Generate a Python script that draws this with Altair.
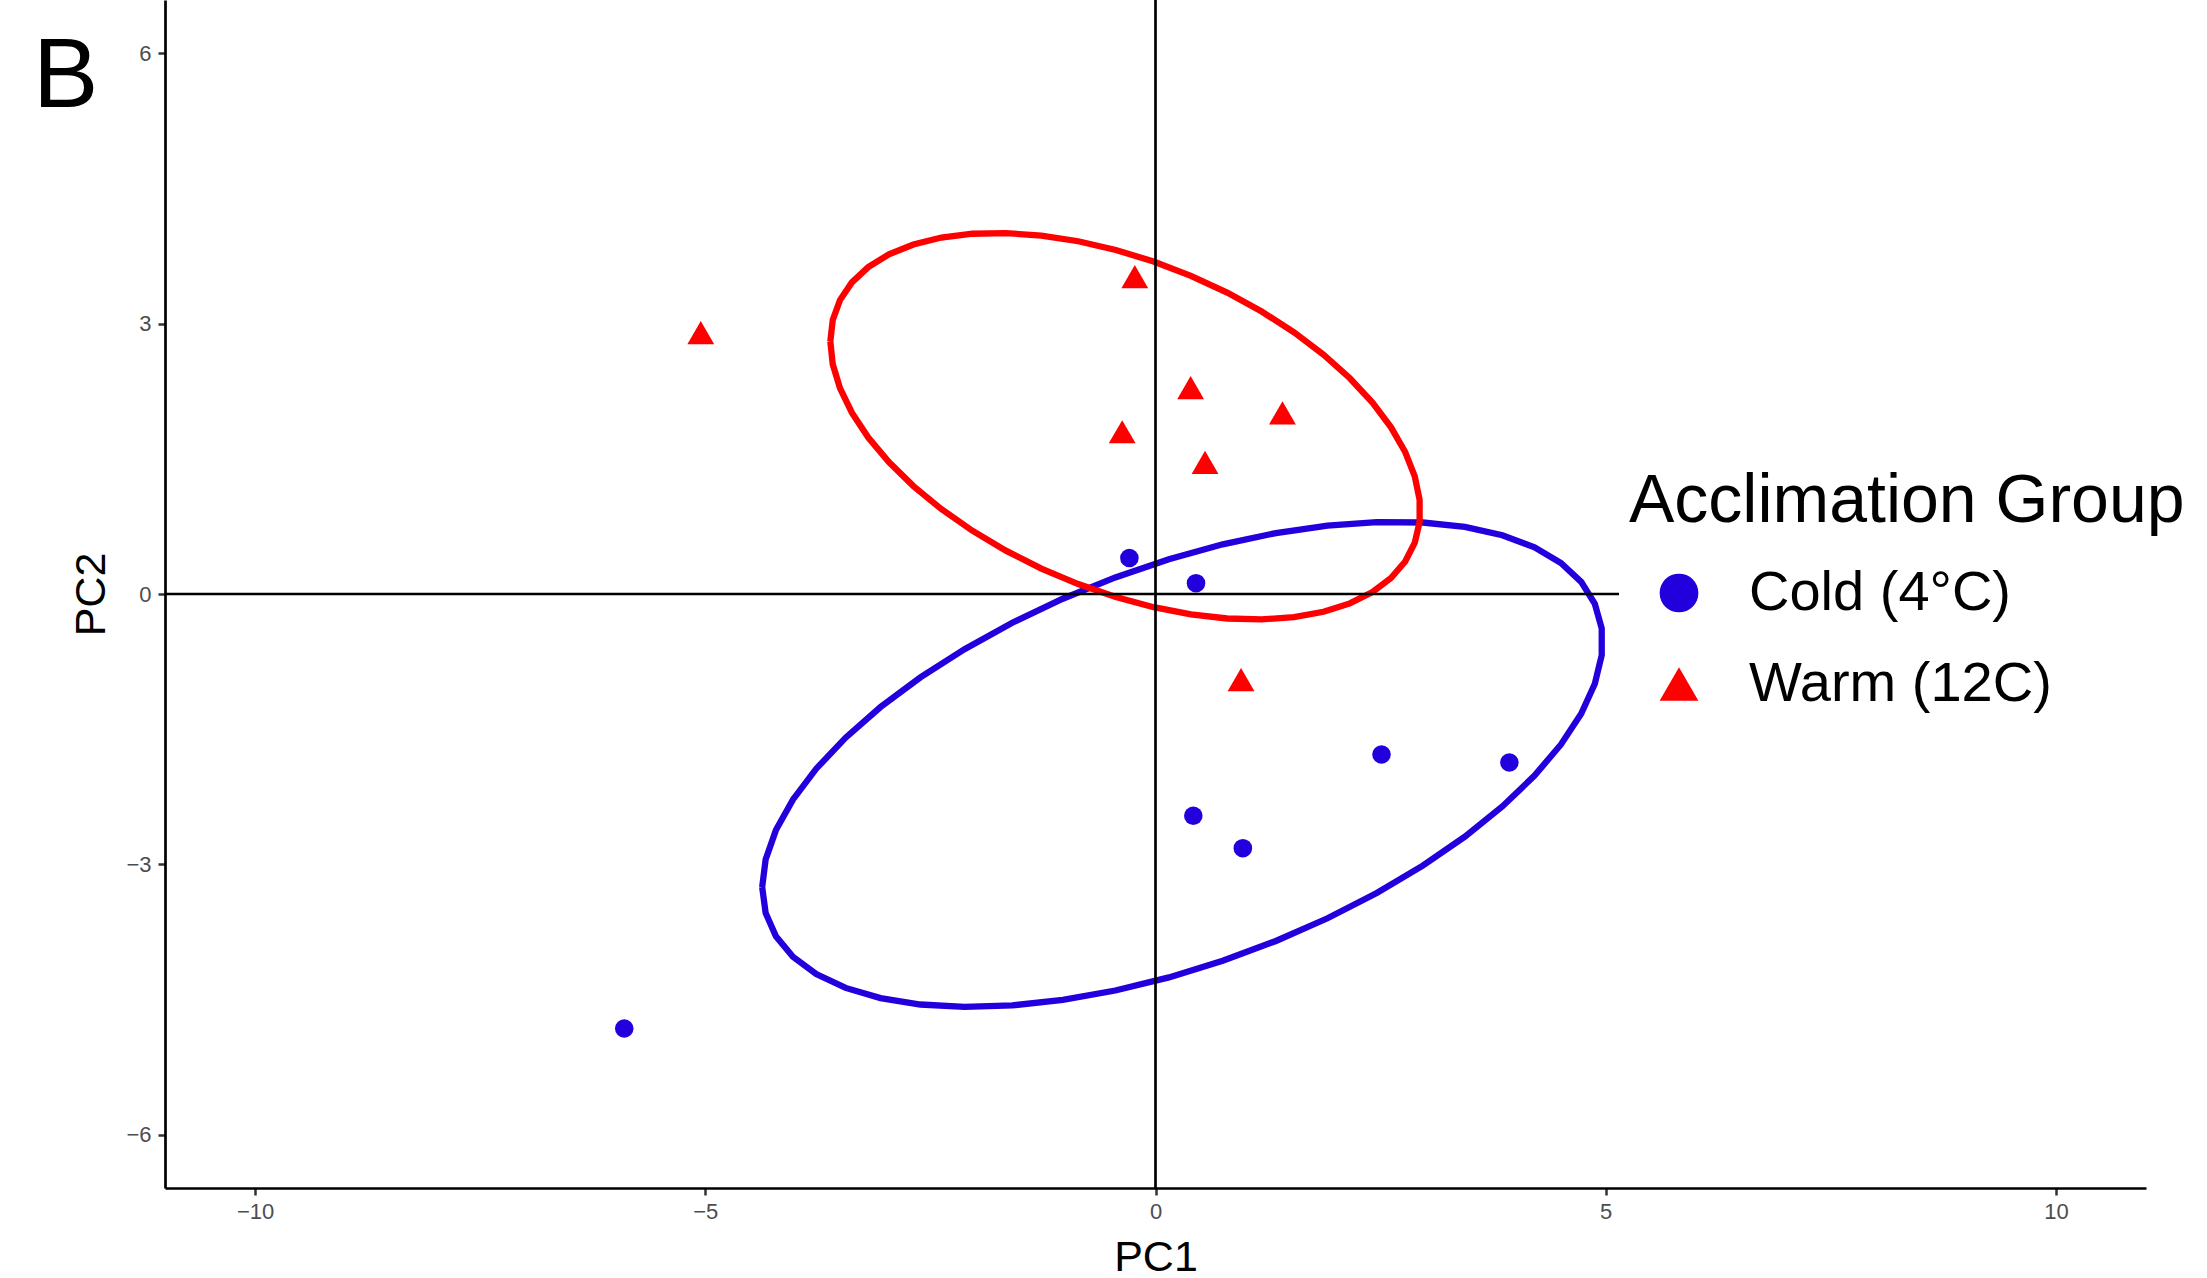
import numpy as np
import pandas as pd
import altair as alt

# ---- data ----
groups = ["Cold (4°C)", "Warm (12C)"]
cold_pc1 = [-0.29, 0.45, 2.51, 3.93, 0.42, 0.97, -5.90]
cold_pc2 = [0.40, 0.12, -1.78, -1.87, -2.46, -2.82, -4.82]
warm_pc1 = [-0.23, -5.05, 0.39, 1.41, -0.37, 0.55, 0.95]
warm_pc2 = [3.52, 2.90, 2.29, 2.01, 1.80, 1.46, -0.95]
colors = ["#2200DD", "#FF0000"]
shapes = ["circle", "triangle-up"]
point_sizes = [345, 720]
x_ticks = [-10, -5, 0, 5, 10]
y_ticks = [-6, -3, 0, 3, 6]
ellipse_prob = 0.68


def ellipse(xs, ys, prob=ellipse_prob):
    # normal-theory ellipse (as in ggbiplot): mean + sqrt(qchisq(prob, 2)) * circle %*% chol(cov)
    pts = np.column_stack([xs, ys]).astype(float)
    mu = pts.mean(0)
    sigma = np.cov(pts.T, ddof=1)
    ed = np.sqrt(-2.0 * np.log(1.0 - prob))
    R = np.linalg.cholesky(sigma).T
    theta = np.concatenate([np.linspace(-np.pi, np.pi, 50), np.linspace(np.pi, -np.pi, 50)])
    circ = np.column_stack([np.cos(theta), np.sin(theta)])
    return mu + ed * circ @ R


pts = pd.DataFrame({
    "PC1": cold_pc1 + warm_pc1,
    "PC2": cold_pc2 + warm_pc2,
    "group": [groups[0]] * len(cold_pc1) + [groups[1]] * len(warm_pc1),
})

ell_rows = []
for g, xs, ys in [(groups[0], cold_pc1, cold_pc2), (groups[1], warm_pc1, warm_pc2)]:
    e = ellipse(xs, ys)
    for i, (a, b) in enumerate(e):
        ell_rows.append({"PC1": a, "PC2": b, "group": g, "idx": i})
ell = pd.DataFrame(ell_rows)

xscale = alt.Scale(domain=[-11, 11], nice=False, zero=False)
yscale = alt.Scale(domain=[-6.59, 6.59], nice=False, zero=False)
cscale = alt.Scale(domain=groups, range=colors)
sscale = alt.Scale(domain=groups, range=shapes)

xaxis = alt.Axis(values=x_ticks, format="d", title="PC1", labelPadding=6, titlePadding=14)
yaxis = alt.Axis(values=y_ticks, format="d", title="PC2", labelPadding=7, titlePadding=12)

legend = alt.Legend(
    title="Acclimation Group",
    orient="none",
    legendX=1454,
    legendY=458,
    fillColor="white",
    padding=10,
    titleFont="Liberation Sans",
    titleFontSize=68,
    titleFontWeight="normal",
    titleColor="black",
    titlePadding=29,
    titleLimit=1000,
    labelFont="Liberation Sans",
    labelFontSize=56,
    labelColor="black",
    labelLimit=1000,
    symbolSize=1500,
    symbolStrokeWidth=0,
    symbolOffset=22,
    labelOffset=42,
    rowPadding=35,
)

line_layers = []
for g, c in zip(groups, colors):
    line_layers.append(
        alt.Chart(ell).transform_filter(alt.datum.group == g).mark_line(
            strokeWidth=6.3, color=c
        ).encode(
            x=alt.X("PC1:Q", scale=xscale, axis=xaxis),
            y=alt.Y("PC2:Q", scale=yscale, axis=yaxis),
            order=alt.Order("idx:Q"),
        )
    )

points = alt.Chart(pts).mark_point(filled=True, opacity=1).encode(
    x=alt.X("PC1:Q", scale=xscale, axis=xaxis),
    y=alt.Y("PC2:Q", scale=yscale, axis=yaxis),
    color=alt.Color("group:N", scale=cscale, legend=legend),
    shape=alt.Shape("group:N", scale=sscale, legend=legend),
    size=alt.condition(
        alt.datum.group == groups[0], alt.value(point_sizes[0]), alt.value(point_sizes[1])
    ),
)

vline = alt.Chart(pd.DataFrame({"v": [0]})).mark_rule(color="black", strokeWidth=2.7).encode(
    x=alt.X("v:Q", scale=xscale)
)
hline = alt.Chart(pd.DataFrame({"v": [0]})).mark_rule(color="black", strokeWidth=2.7).encode(
    y=alt.Y("v:Q", scale=yscale)
)

label = alt.Chart(pd.DataFrame({"t": ["B"]})).mark_text(
    font="Liberation Sans", fontSize=98, align="left", baseline="alphabetic", color="black"
).encode(x=alt.value(-132), y=alt.value(107), text="t:N")

chart = alt.layer(*line_layers, points, vline, hline, label).properties(
    width=1981,
    height=1188,
    padding={"left": 165, "top": 0, "right": 61, "bottom": 90},
    autosize=alt.AutoSizeParams(type="none"),
).configure_view(stroke=None).configure_axis(
    grid=False,
    domainColor="black",
    domainWidth=2.7,
    tickColor="#333333",
    tickWidth=2.5,
    tickSize=7,
    labelColor="#4D4D4D",
    labelFont="Liberation Sans",
    labelFontSize=22,
    titleFont="Liberation Sans",
    titleFontSize=43,
    titleFontWeight="normal",
    titleColor="black",
)

chart.save("out.html", embed_options={"renderer": "svg", "actions": False})
